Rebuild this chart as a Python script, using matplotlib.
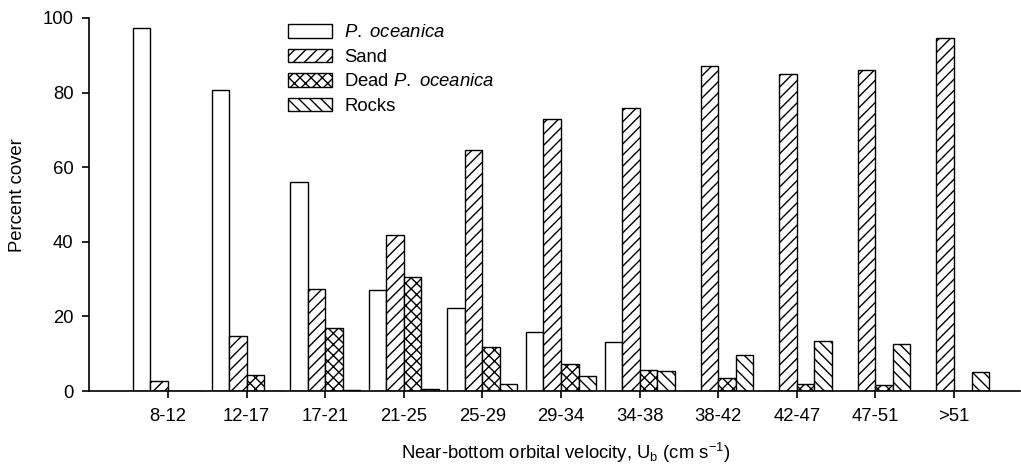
"""Percent cover of seabed types by near-bottom orbital velocity class."""
import matplotlib
matplotlib.use("Agg")
import matplotlib.pyplot as plt
import numpy as np

plt.rcParams["font.family"] = "Liberation Sans"
plt.rcParams["mathtext.fontset"] = "custom"
plt.rcParams["mathtext.rm"] = "Liberation Sans"
plt.rcParams["mathtext.it"] = "Liberation Sans:italic"
plt.rcParams["hatch.linewidth"] = 1.0

classes = ["8-12", "12-17", "17-21", "21-25", "25-29", "29-34",
           "34-38", "38-42", "42-47", "47-51", ">51"]
posidonia = [97.3, 80.8, 55.9, 27.2, 22.2, 15.9, 13.2, 0, 0, 0, 0]
sand = [2.8, 14.8, 27.4, 41.8, 64.5, 72.9, 76.0, 87.1, 85.0, 86.1, 94.6]
dead = [0, 4.3, 16.8, 30.6, 11.8, 7.2, 5.6, 3.4, 2.0, 1.5, 0]
rocks = [0, 0, 0.3, 0.6, 1.9, 4.0, 5.4, 9.7, 13.3, 12.5, 5.1]

series = [
    (posidonia, "", r"$\mathit{P.}$ $\mathit{oceanica}$"),
    (sand, "///", "Sand"),
    (dead, "xxx", r"Dead $\mathit{P.}$ $\mathit{oceanica}$"),
    (rocks, "\\\\\\", "Rocks"),
]

fig = plt.figure(figsize=(10.21, 4.73), dpi=100)
ax = fig.add_axes([89 / 1021, 82 / 473, 931 / 1021, 373 / 473])

x = np.arange(len(classes))
width = 0.223
for i, (values, hatch, label) in enumerate(series):
    ax.bar(x + (i - 1.5) * width, values, width, color="white",
           edgecolor="black", linewidth=1.0, hatch=hatch, label=label)

ax.set_xlim(-1.005, 10.84)
ax.set_ylim(0, 100)
ax.set_xticks(x)
ax.set_xticklabels(classes)
ax.set_yticks(range(0, 101, 20))
for side in ["top", "right"]:
    ax.spines[side].set_visible(False)
ax.spines["bottom"].set_linewidth(1.2)
ax.spines["left"].set_linewidth(1.2)
ax.tick_params(axis="x", direction="out", length=5, width=1.2,
               pad=7, labelsize=13.3)
ax.tick_params(axis="y", direction="out", length=5, width=1.2,
               pad=6, labelsize=13.3)

ax.set_xlabel(r"Near-bottom orbital velocity, U$_\mathrm{b}$ (cm s$^{-1}$)",
              fontsize=13.3)
ax.set_ylabel("Percent cover", fontsize=13.3)
ax.xaxis.set_label_coords(0.512, -0.133)
ax.yaxis.set_label_coords(-0.068, 0.525)

fig.legend(loc="upper left", bbox_to_anchor=(288 / 1021, 1 - 24 / 473),
           frameon=False, fontsize=13.3, handlelength=2.4, handleheight=0.75,
           handletextpad=0.65, labelspacing=0.4, borderpad=0,
           borderaxespad=0)

fig.savefig("out.png", dpi=100, facecolor="white")
